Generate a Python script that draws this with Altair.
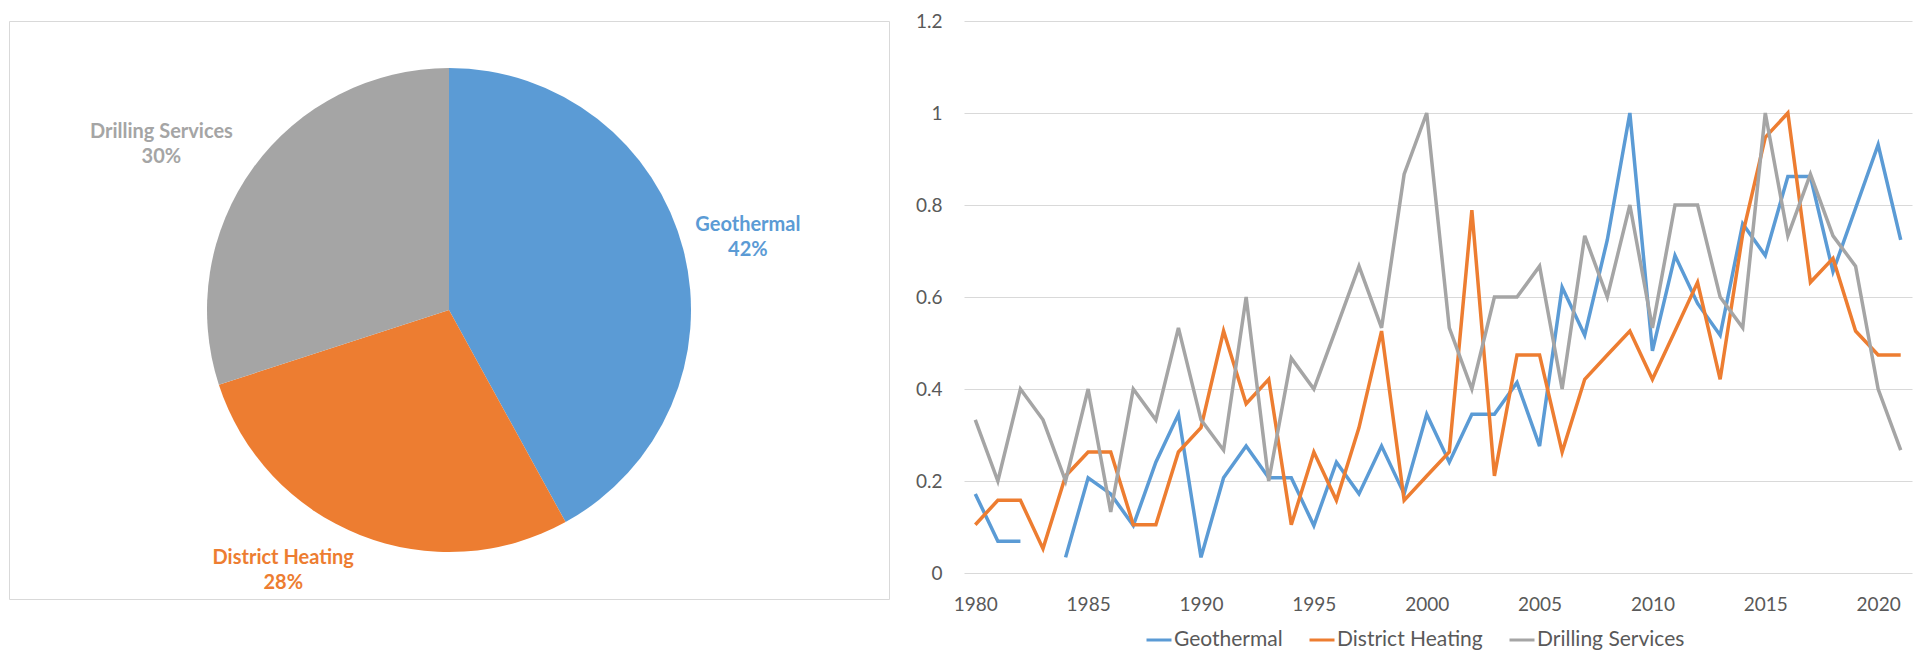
import altair as alt
import pandas as pd

# ---------------- data ----------------
years = [1980, 1981, 1982, 1983, 1984, 1985, 1986, 1987, 1988, 1989,
         1990, 1991, 1992, 1993, 1994, 1995, 1996, 1997, 1998, 1999,
         2000, 2001, 2002, 2003, 2004, 2005, 2006, 2007, 2008, 2009,
         2010, 2011, 2012, 2013, 2014, 2015, 2016, 2017, 2018, 2019,
         2020, 2021]

geothermal = [0.172, 0.069, 0.069, None, 0.034, 0.207, 0.172, 0.103, 0.241, 0.345,
              0.034, 0.207, 0.276, 0.207, 0.207, 0.103, 0.241, 0.172, 0.276, 0.172,
              0.345, 0.241, 0.345, 0.345, 0.414, 0.276, 0.621, 0.517, 0.724, 1.0,
              0.483, 0.690, 0.586, 0.517, 0.759, 0.690, 0.862, 0.862, 0.655, 0.793,
              0.931, 0.724]

district_heating = [0.105, 0.158, 0.158, 0.053, 0.211, 0.263, 0.263, 0.105, 0.105, 0.263,
                    0.316, 0.526, 0.368, 0.421, 0.105, 0.263, 0.158, 0.316, 0.526, 0.158,
                    0.211, 0.263, 0.789, 0.211, 0.474, 0.474, 0.263, 0.421, 0.474, 0.526,
                    0.421, 0.526, 0.632, 0.421, 0.737, 0.947, 1.0, 0.632, 0.684, 0.526,
                    0.474, 0.474]

drilling_services = [0.333, 0.2, 0.4, 0.333, 0.2, 0.4, 0.133, 0.4, 0.333, 0.533,
                     0.333, 0.267, 0.6, 0.2, 0.467, 0.4, 0.533, 0.667, 0.533, 0.867,
                     1.0, 0.533, 0.4, 0.6, 0.6, 0.667, 0.4, 0.733, 0.6, 0.8,
                     0.533, 0.8, 0.8, 0.6, 0.533, 1.0, 0.733, 0.867, 0.733, 0.667,
                     0.4, 0.267]

series_names = ["Geothermal", "District Heating", "Drilling Services"]
series_colors = ["#5b9bd5", "#ed7d31", "#a5a5a5"]

pie_categories = ["Geothermal", "District Heating", "Drilling Services"]
pie_shares = [42, 28, 30]

x_ticks = [1980, 1985, 1990, 1995, 2000, 2005, 2010, 2015, 2020]
y_ticks = [0, 0.2, 0.4, 0.6, 0.8, 1.0, 1.2]

FONT = "Lato"
TEXT_GREY = "#595959"
GRID_GREY = "#d9d9d9"

# ---------------- tables ----------------
rows = []
for name, vals in zip(series_names, [geothermal, district_heating, drilling_services]):
    for yr, v in zip(years, vals):
        rows.append({"year": yr, "series": name, "value": v})
line_df = pd.DataFrame(rows)

pie_df = pd.DataFrame({"category": pie_categories, "share": pie_shares})
pie_df["label"] = [f"{c}\n{s}%" for c, s in zip(pie_categories, pie_shares)]

# ---------------- pie ----------------
pie_base = alt.Chart(pie_df).transform_window(idx="row_number()").encode(
    theta=alt.Theta("share:Q", stack=True),
    order=alt.Order("idx:Q"),
)

arcs = pie_base.mark_arc(outerRadius=242).encode(
    color=alt.Color("category:N",
                    scale=alt.Scale(domain=pie_categories, range=series_colors),
                    legend=None)
)

label_style = {
    "Geothermal": (18, -13),
    "District Heating": (-59, -22),
    "Drilling Services": (-53, -8),
}

label_layers = []
for name, col in zip(pie_categories, series_colors):
    ddx, ddy = label_style[name]
    label_layers.append(
        pie_base.mark_text(
            radius=290, dx=ddx, dy=ddy, font=FONT, fontSize=20, fontWeight="bold",
            lineBreak="\n", lineHeight=25, color=col,
        ).encode(
            text=alt.condition(alt.datum.category == name, "label:N", alt.value(""))
        )
    )

pie = alt.layer(arcs, *label_layers).properties(
    width=880, height=578,
    view=alt.ViewBackground(stroke=GRID_GREY, strokeWidth=1),
)

# ---------------- lines ----------------
lines = alt.Chart(line_df).mark_line(
    strokeWidth=3.5, invalid="break-paths-show-domains",
).encode(
    x=alt.X(
        "year:Q",
        scale=alt.Scale(domain=[1979.5, 2021.5], nice=False, zero=False),
        axis=alt.Axis(values=x_ticks, format="d", grid=False, ticks=False,
                      domain=False, labelPadding=22, title=None),
    ),
    y=alt.Y(
        "value:Q",
        scale=alt.Scale(domain=[0, 1.2], nice=False),
        axis=alt.Axis(values=y_ticks, format="~g", grid=True, gridColor=GRID_GREY,
                      gridWidth=1, domain=False, ticks=False, labelPadding=22,
                      minExtent=48, maxExtent=48, title=None),
    ),
    color=alt.Color(
        "series:N",
        scale=alt.Scale(domain=series_names, range=series_colors),
        sort=series_names,
        legend=alt.Legend(
            title=None, orient="none", legendX=181, legendY=605,
            direction="horizontal", symbolType="stroke", symbolSize=625,
            symbolStrokeWidth=3, labelFontSize=21, labelColor=TEXT_GREY,
            labelFont=FONT, columnPadding=20, labelOffset=1,
        ),
    ),
).properties(
    width=948, height=552,
    view=alt.ViewBackground(stroke="transparent"),
)

chart = alt.hconcat(pie, lines, spacing=24).resolve_scale(
    color="independent"
).resolve_legend(
    color="independent"
).properties(
    padding={"left": 0, "top": 3, "right": 0, "bottom": 0},
    background="white",
).configure_axis(
    labelFont=FONT, labelFontSize=19, labelColor=TEXT_GREY,
).configure_view(
    stroke="transparent",
)

chart.save("out.html", embed_options={"renderer": "svg", "actions": False})
